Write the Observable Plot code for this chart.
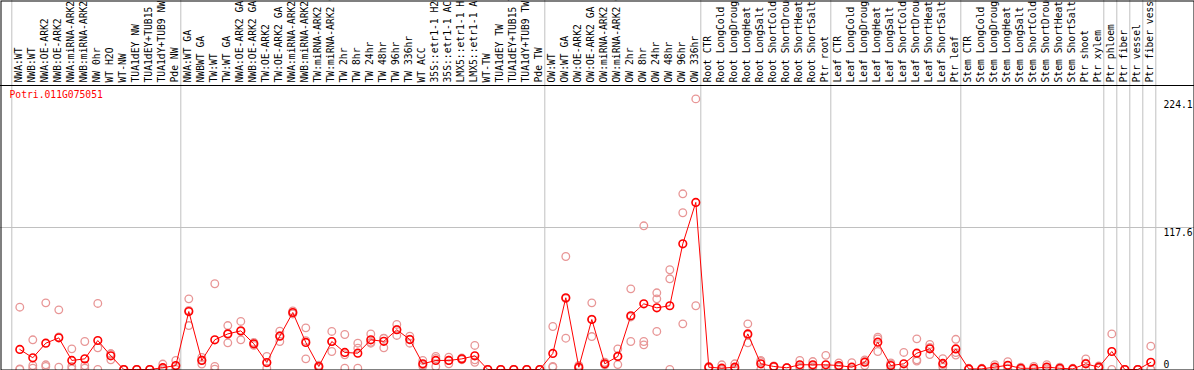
<!DOCTYPE html>
<html>
<head>
<meta charset="utf-8">
<script src="https://cdn.jsdelivr.net/npm/d3@7"></script>
<script src="https://cdn.jsdelivr.net/npm/@observablehq/plot@0.6"></script>
<style>
  html, body { margin: 0; padding: 0; background: white; }
  #chart svg { display: block; }
</style>
</head>
<body>
<div id="chart"></div>
<script>
const geneName = "Potri.011G075051";

const sampleLabels = [
  "NWA:WT", "NWB:WT", "NWA:OE-ARK2", "NWB:OE-ARK2", "NWA:miRNA-ARK2", "NWB:miRNA-ARK2",
  "NW 0hr", "WT H2O", "WT-NW", "TUA1dEY NW", "TUA1dEY+TUB15 NW", "TUA1dY+TUB9 NW", "Pde NW",
  "NWA:WT GA", "NWBWT GA", "TW:WT", "TW:WT GA", "NWA:OE-ARK2 GA", "NWB:OE-ARK2 GA",
  "TW:OE-ARK2", "TW:OE-ARK2 GA", "NWA:miRNA-ARK2 GA", "NWB:miRNA-ARK2 GA", "TW:miRNA-ARK2",
  "TW:miRNA-ARK2 GA", "TW 2hr", "TW 8hr", "TW 24hr", "TW 48hr", "TW 96hr", "TW 336hr",
  "WT ACC", "35S::etr1-1 H2O", "35S::etr1-1 ACC", "LMX5::etr1-1 H2O", "LMX5::etr1-1 ACC",
  "WT-TW", "TUA1dEY TW", "TUA1dEY+TUB15 TW", "TUA1dY+TUB9 TW", "Pde TW",
  "OW:WT", "OW:WT GA", "OW:OE-ARK2", "OW:OE-ARK2 GA", "OW:miRNA-ARK2", "OW:miRNA-ARK2 GA",
  "OW 2hr", "OW 8hr", "OW 24hr", "OW 48hr", "OW 96hr", "OW 336hr",
  "Root CTR", "Root LongCold", "Root LongDrought", "Root LongHeat", "Root LongSalt",
  "Root ShortCold", "Root ShortDrought", "Root ShortHeat", "Root ShortSalt", "Ptr root",
  "Leaf CTR", "Leaf LongCold", "Leaf LongDrought", "Leaf LongHeat", "Leaf LongSalt",
  "Leaf ShortCold", "Leaf ShortDrought", "Leaf ShortHeat", "Leaf ShortSalt", "Ptr leaf",
  "Stem CTR", "Stem LongCold", "Stem LongDrought", "Stem LongHeat", "Stem LongSalt",
  "Stem ShortCold", "Stem ShortDrought", "Stem ShortHeat", "Stem ShortSalt", "Ptr shoot", "Ptr xylem",
  "Ptr phloem", "Ptr fiber", "Ptr vessel", "Ptr fiber vessel"
];

const groupSizes = [13, 28, 12, 10, 10, 11, 1, 1, 1, 1];

const meanValues = [
  16.6, 9.7, 21.8, 26.2, 7.5, 8.8, 24, 11.3, 0, 0, 0, 1.5, 3.3,
  48, 7.5, 24.6, 29.5, 32, 21.3, 5.8, 27.6, 47.2, 22.4, 2.5, 23.2, 14.1, 13.5, 24.6, 23.3,
  32.9, 24.8, 4.7, 7.5, 7.5, 8.8, 11.3, 0, 0, 0, 0, 0,
  13.3, 59.4, 1.9, 41.4, 4.7, 10.8, 44.5, 54.4, 51.1, 52.8, 104.1, 138.4,
  1.9, 1.1, 1.9, 29.5, 4.7, 2.5, 1.4, 3.9, 3.9, 3.9,
  3.3, 1.9, 6, 22.6, 3.3, 4.7, 13.5, 17.1, 5, 17,
  0.5, 0.5, 2, 3.5, 1, 1, 2, 1, 0.5, 4.7, 1.9,
  14.9, 0, 0, 6
];

const replicateValues = [
  [51.6, 0.5, 0], [24.6, 3.3, 1.1], [55.2, 3.9, 2.5], [49.4, 27, 1.9], [17.1, 2.5, 0.5],
  [23.2, 3.3, 1.1], [54.7, 18, 0], [13, 8, 13], [0, 0, 0], [0, 0, 0], [0, 0, 0],
  [4.5, 0, 0], [7.5, 2.5, 0],
  [58.5, 49, 36.4], [10, 8, 4.5], [71, 2.5, 0.3], [36.4, 30, 22.1], [39.8, 31.6, 24.6],
  [22.5, 21.3, 20], [10.8, 5.5, 1.1], [31.7, 27.9, 23.2], [48.5, 47, 46], [34.5, 23.9, 8.8],
  [3.5, 2.5, 1.5], [31.5, 23.2, 14.9], [29, 12.2, 1.1], [21.8, 17.6, 1.1], [29.5, 22.5, 21.8],
  [25.9, 25.7, 18], [37.3, 33.2, 28.2], [27.6, 25, 21.8], [7.5, 3.9, 2.7], [10.8, 9.2, 2.5],
  [10.2, 7.6, 4.7], [9.5, 8.8, 8.1], [19.9, 8, 6], [0, 0, 0], [0, 0, 0], [0, 0, 0], [0, 0, 0], [0, 0, 0],
  [35.6, 2.5, 2], [93.6, 58.7, 25.9], [3.3, 1.5, 0.9], [55.2, 41.7, 27.3], [6, 4.2, 3.9],
  [17.1, 11.2, 4.1], [66.8, 43.5, 23.2], [119, 23.2, 20.4], [63.5, 58.5, 31.5], [82.6, 75.1, 0],
  [145.5, 129.8, 37.8], [224.1, 52.8],
  [2.5, 1.9, 1.2], [3.9, 0, 0], [4.7, 1, 0], [37.8, 28.6, 22.1], [7.5, 6.6, 0], [3, 2.5, 2],
  [1.4, 1.4, 1.4], [7.5, 2.3, 1.9], [6.6, 3.2, 1.9], [11.7, 0, 0],
  [5.5, 2.5, 1.9], [5.7, 0, 0], [8, 6.8, 3.3], [26.8, 25.4, 14.9], [5.5, 4.4, 0], [14.1, 0, 0],
  [25.4, 8, 7], [20.7, 18.2, 12.4], [9, 4, 2], [25, 14, 12],
  [1, 0.5, 0], [1, 0.5, 0], [4, 1.5, 0.5], [6.5, 3, 1], [2, 1, 0], [2.5, 0.5, 0], [4, 1.5, 0.5],
  [2, 1, 0], [1, 0.5, 0], [8.8, 5.3, 0], [3, 1.5, 1.2],
  [29.5, 0], [0, 0, 0], [0, 0, 0], [19.3, 0, 0]
];

const yTickValues = [224.1, 117.6, 0];
const yMax = 235.2;

// derived tables
const points = meanValues.map((v, i) => ({i, v, label: sampleLabels[i]}));
const reps = replicateValues.flatMap((r, i) => r.map(v => ({i, v})));
let acc = -0.5;
const boundaries = [acc, ...groupSizes.map(s => (acc += s))];

const chart = Plot.plot({
  width: 1194,
  height: 370,
  margin: 0,
  x: {type: "linear", domain: [0, sampleLabels.length - 1], range: [19.3, 1150.3], axis: null},
  y: {domain: [0, yMax], range: [369, 85], axis: null},
  style: {background: "white", fontFamily: "'DejaVu Sans Mono', monospace", fontSize: "9.7px", color: "black"},
  marks: [
    Plot.ruleY([yTickValues[1]], {stroke: "#c0c0c0", strokeWidth: 1}),
    Plot.ruleX(boundaries, {x: d => d, stroke: "#c0c0c0", strokeWidth: 1, dx: -1.5}),
    Plot.ruleY([yMax], {stroke: "black", strokeWidth: 1}),
    Plot.dot(reps, {x: "i", y: "v", r: 3.8, stroke: "#e89696", strokeWidth: 1.3, fill: "none"}),
    Plot.line(points, {x: "i", y: "v", stroke: "red", strokeWidth: 1}),
    Plot.dot(points, {x: "i", y: "v", r: 3.8, stroke: "red", strokeWidth: 1.6, fill: "none"}),
    Plot.text(points, {x: "i", text: "label", frameAnchor: "top", dy: 82, dx: -1, rotate: -90,
      textAnchor: "start", lineAnchor: "middle", fill: "black"}),
    Plot.text([geneName], {text: d => d, frameAnchor: "top-left", dx: 9, dy: 91, fill: "red",
      textAnchor: "start", lineAnchor: "top"}),
    Plot.text(yTickValues.filter(v => v > 0), {y: d => d, text: d => String(d), frameAnchor: "right",
      dx: -31, textAnchor: "start", lineAnchor: "top", dy: 2, fill: "black"}),
    Plot.text(yTickValues.filter(v => v === 0), {y: d => d, text: d => String(d), frameAnchor: "right",
      dx: -31, textAnchor: "start", lineAnchor: "bottom", dy: -2, fill: "black"}),
    Plot.frame({stroke: "black", strokeWidth: 1, inset: 0.5})
  ]
});
document.getElementById("chart").appendChild(chart);
</script>
</body>
</html>
